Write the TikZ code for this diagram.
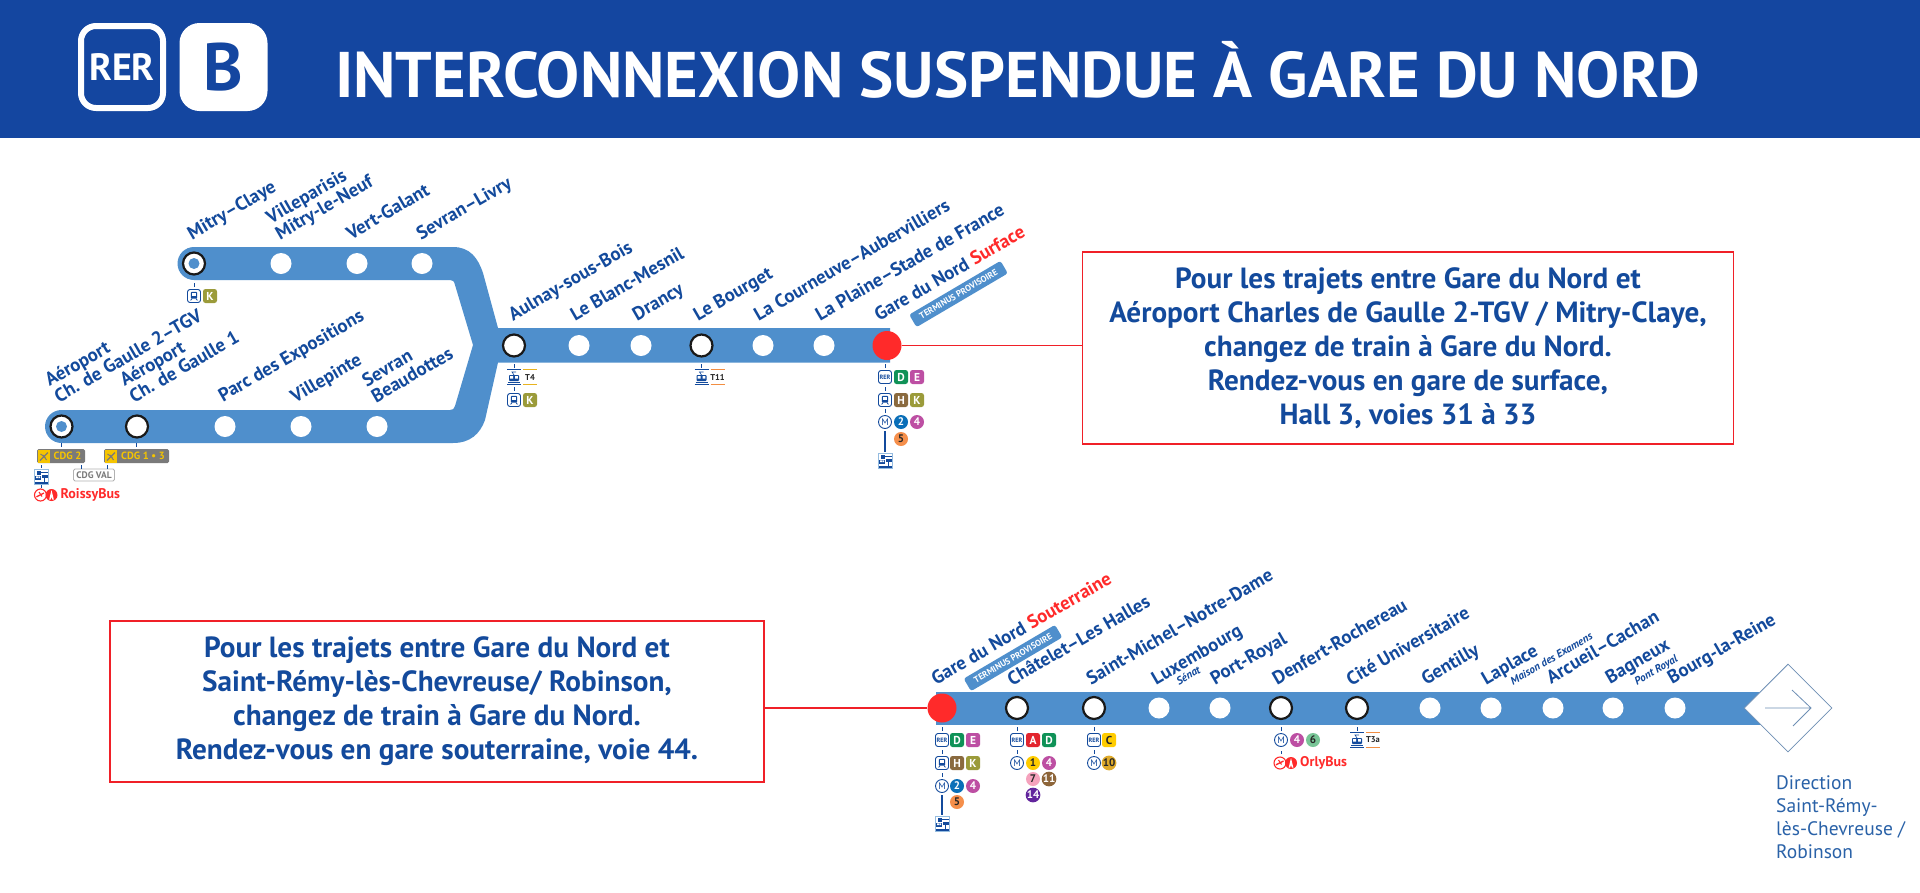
\documentclass[tikz,border=0pt]{standalone}
\usepackage{fontspec}
\usepackage{graphicx}
\setmainfont{PT Sans}
\newfontfamily\titlef{PT Sans}
\usetikzlibrary{calc,shapes.geometric}
\definecolor{hdr}{HTML}{1446A0}
\definecolor{rerb}{HTML}{134A9C}
\definecolor{band}{HTML}{4F8FCC}
\definecolor{redm}{HTML}{FF2A2A}
\definecolor{redl}{HTML}{F02028}
\definecolor{cD}{HTML}{0F9257}
\definecolor{cE}{HTML}{BD4FA3}
\definecolor{cH}{HTML}{8A6A3F}
\definecolor{cK}{HTML}{9B9B3A}
\definecolor{c2}{HTML}{0A6FB8}
\definecolor{c5}{HTML}{F58F4B}
\definecolor{cA}{HTML}{E3252E}
\definecolor{cC}{HTML}{FFCC00}
\definecolor{c7}{HTML}{F5A2BD}
\definecolor{c11}{HTML}{8D6539}
\definecolor{c14}{HTML}{62259D}
\definecolor{c10}{HTML}{DFAA2A}
\definecolor{c6}{HTML}{78C596}
\definecolor{tyel}{HTML}{E8B31E}
\definecolor{tora}{HTML}{F28E42}
\definecolor{chipg}{HTML}{7A7A7A}
\definecolor{chipy}{HTML}{F5C400}
\definecolor{dirc}{HTML}{2A62A8}
\definecolor{dia}{HTML}{6E8FB5}
\newcommand\twol[2]{\begin{tabular}[b]{@{}l@{}}#1\\#2\end{tabular}}
\newcommand\srf[1]{{\color{redm}#1}}
\tikzset{
  x=1pt,y=-1pt,
  lab/.style={font=\fontsize{18.8}{17}\selectfont\bfseries,text=rerb,rotate=30,anchor=base west,inner sep=0pt,outer sep=0pt},
  sublab/.style={font=\fontsize{11}{10}\selectfont\itshape\bfseries,text=rerb,rotate=30,anchor=base west,inner sep=0pt,outer sep=0pt},
  stw/.style={circle,fill=white,minimum size=21pt,inner sep=0pt},
  stb/.style={circle,fill=white,draw=black!90,line width=2.2pt,minimum size=22pt,inner sep=0pt},
  dotb/.style={circle,fill=band,minimum size=11pt,inner sep=0pt},
  stred/.style={circle,fill=redm,minimum size=29pt,inner sep=0pt},
  msgbox/.style={draw=redl,line width=1.4pt,fill=white,align=center,text=rerb,font=\fontsize{29.2}{34}\selectfont\bfseries},
  redline/.style={draw=redl,line width=1.4pt},
  tag/.style={rotate=30.5,fill=band,rounded corners=2.5pt,text=white,font=\fontsize{8.8}{8}\selectfont\bfseries,minimum width=106pt,minimum height=14.5pt,inner sep=0pt},
  sq/.style={rectangle,fill=#1,rounded corners=2.5pt,minimum size=14pt,inner sep=0pt,text=white,font=\fontsize{11.5}{11}\selectfont\bfseries},
  rd/.style={circle,fill=#1,minimum size=14pt,inner sep=0pt,text=white,font=\fontsize{11}{11}\selectfont\bfseries},
  dk/.style={text=black!85},
  icbox/.style={rectangle,draw=rerb,fill=white,line width=0.9pt,rounded corners=2.5pt,minimum size=13pt,inner sep=0pt,text=rerb,font=\fontsize{6.2}{6}\selectfont\bfseries},
  micon/.style={circle,draw=rerb,fill=white,line width=0.9pt,minimum size=13pt,inner sep=0pt,text=rerb,font=\fontsize{9.5}{9}\selectfont},
  tline/.style={rectangle,minimum width=14pt,minimum height=9pt,inner sep=0pt,font=\fontsize{8.5}{8}\selectfont\bfseries,text=black!85},
  tick/.style={draw=rerb,line width=1pt},
  chip/.style={rectangle,fill=chipg,rounded corners=1.5pt,minimum height=14pt,inner sep=0pt,text=chipy,font=\fontsize{10.5}{10}\selectfont\bfseries},
  valchip/.style={rectangle,draw=black!30,fill=white,line width=0.8pt,rounded corners=1.5pt,minimum width=41pt,minimum height=12pt,inner sep=0pt,text=chipg,font=\fontsize{9.5}{9}\selectfont\bfseries},
  busname/.style={inner sep=0pt,anchor=west,text=redm,font=\fontsize{14}{13}\selectfont\bfseries},
  trainic/.pic={
    \fill[rerb,rounded corners=1pt] (-3.2,-4.2) rectangle (3.2,2.6);
    \fill[white] (-2,-2.6) rectangle (2,-0.2);
    \draw[rerb,line width=.8pt] (-2,2.6)--(-3.4,4.4) (2,2.6)--(3.4,4.4);
  },
  tramic/.pic={
    \draw[rerb,line width=1pt] (-7,-7.5)--(7,-7.5) (-7,7.5)--(7,7.5);
    \fill[rerb,rounded corners=.8pt] (-5,-2) rectangle (5,4);
    \fill[white] (-3.8,-.8) rectangle (-1,1.6) (1,-.8) rectangle (3.8,1.6);
    \draw[rerb,line width=.6pt] (0,-2)--(-2,-5)--(2,-5);
    \draw[rerb,line width=.8pt] (-6,5.6)--(6,5.6);
  },
  busic/.pic={
    \fill[white] (-7,-7.5) rectangle (7,7.5);
    \draw[band!60,line width=.6pt] (-7,-7.5) rectangle (7,7.5);
    \fill[rerb] (-6.5,-1.5) rectangle (0,3);
    \fill[rerb] (1,-2.5) rectangle (6.5,.5);
    \fill[rerb] (-6.5,4.5) rectangle (6.5,7);
    \fill[rerb] (-4,-6.5) rectangle (-.5,-2.5);
    \fill[white] (-5,-.6) rectangle (-3,1.2) (-2.5,-.6) rectangle (-.8,1.2);
    \draw[rerb,line width=.8pt] (-1,-5)--(6.5,-5) (3.5,.5)--(3.5,4.5);
  },
  planeic/.pic={
    \draw[chipg,line width=1.1pt] (-4,4)--(4,-4);
    \draw[chipg,line width=1pt] (-3.5,-2.5)--(1.5,1) (2.5,3.5)--(-1,-1.5);
  },
  buslogo/.pic={
    \draw[redm,line width=1.1pt,fill=white] (-5.5,0) circle (6);
    \fill[redm] (5.5,0) circle (6);
    \draw[redm,line width=1.3pt] (-9.5,1.8)--(-2,-2);
    \draw[redm,line width=1pt] (-7,-3)--(-4,1.5);
    \fill[white] (5.5,-5)--(7.8,4.5)--(6.4,4.5)--(5.5,2)--(4.6,4.5)--(3.2,4.5)--cycle;
  }
}
\newcommand\tickup[1]{\draw[tick] ($(#1.north)+(0,-2)$) -- ($(#1.north)+(0,-6)$);}
\begin{document}
\begin{tikzpicture}
\useasboundingbox (0,0) rectangle (1920,892);
\fill[white] (0,0) rectangle (1920,892);
% header
\fill[hdr] (0,0) rectangle (1920,138);
\node[draw=white,line width=6pt,rounded corners=15pt,minimum size=82pt,inner sep=0pt,text=white,font=\titlef\fontsize{38}{38}\selectfont\bfseries] (rerlogo) at (122,67) {RER};
\node[fill=white,rounded corners=20pt,minimum size=88pt,inner sep=0pt,text=hdr,font=\titlef\fontsize{67}{67}\selectfont\bfseries] (blogo) at (223.5,67) {B};
\node[anchor=base west,inner sep=0pt,text=white,font=\titlef\fontsize{64.5}{66}\selectfont\bfseries] (title) at (335,97) {INTERCONNEXION SUSPENDUE À GARE DU NORD};
% band north
\fill[band] (194,263.5) circle (16.5);
\fill[band] (61.5,426.5) circle (16.5);
\fill[band] (194,247) -- (453,247) .. controls (470,247) and (478,258) .. (483,273) -- (498,328) -- (890,328) -- (890,362.5) -- (498,362.5) -- (485,420) .. controls (480,434) and (470,443) .. (453,443) -- (61.5,443) -- (61.5,410) -- (450,410) .. controls (453,410) and (454,409) .. (455,406) -- (473,345) -- (455,285) .. controls (454,281) and (453,280) .. (450,280) -- (194,280) -- cycle;
% band south
\fill[band] (936,692) rectangle (1770,725);
% stations north
\node[stb] (mitry) at (194,263.5) {}; \node[dotb] (mitryd) at (mitry) {};
\node[stw] (vmn) at (281,263.5) {};
\node[stw] (vg) at (357,263.5) {};
\node[stw] (sl) at (422,263.5) {};
\node[stb] (cdgt) at (61.5,426.5) {}; \node[dotb] (cdgtd) at (cdgt) {};
\node[stb] (cdgu) at (137,426.5) {};
\node[stw] (parc) at (225,426.5) {};
\node[stw] (vil) at (301,426.5) {};
\node[stw] (sb) at (377,426.5) {};
\node[stb] (aul) at (514,345.5) {};
\node[stw] (lbm) at (579,345.5) {};
\node[stw] (dra) at (641,345.5) {};
\node[stb] (lbo) at (701.5,345.5) {};
\node[stw] (lco) at (763,345.5) {};
\node[stw] (lpl) at (824,345.5) {};
\node[stred] (gnn) at (887,345.5) {};
% stations south
\node[stred] (gns) at (942,708) {};
\node[stb] (cha) at (1017,708) {};
\node[stb] (smi) at (1094,708) {};
\node[stw] (lux) at (1159,708) {};
\node[stw] (por) at (1220,708) {};
\node[stb] (den) at (1281,708) {};
\node[stb] (cit) at (1357,708) {};
\node[stw] (gen) at (1430,708) {};
\node[stw] (lap) at (1491,708) {};
\node[stw] (arc) at (1553,708) {};
\node[stw] (bag) at (1613,708) {};
\node[stw] (bou) at (1675,708) {};
% terminus diamond
\node[diamond,aspect=1,draw=dia,line width=.8pt,fill=white,minimum size=88pt,inner sep=0pt] (dirn) at (1788,708) {};
\draw[draw=dia,line width=.8pt] (1765,708) -- (1811,708) (1792,690) -- (1811,708) -- (1793,726);
\node[anchor=north west,align=left,inner sep=0pt,text=dirc,font=\fontsize{19.5}{23}\selectfont] (dirt) at (1776,775) {Direction\\Saint-Rémy-\\lès-Chevreuse /\\Robinson};
% labels north
\node[lab] (l1) at (192,240) {Mitry–Claye};
\node[lab] (l2) at (280,240) {\twol{Villeparisis}{Mitry-le-Neuf}};
\node[lab] (l3) at (351,240) {Vert-Galant};
\node[lab] (l4) at (421,240) {Sevran–Livry};
\node[lab] (l5) at (59,403) {\twol{Aéroport}{Ch. de Gaulle 2–TGV}};
\node[lab] (l6) at (134,403) {\twol{Aéroport}{Ch. de Gaulle 1}};
\node[lab] (l7) at (223,402) {Parc des Expositions};
\node[lab] (l8) at (295,403) {Villepinte};
\node[lab] (l9) at (376,403) {\twol{Sevran}{Beaudottes}};
\node[lab] (l10) at (513,321) {Aulnay-sous-Bois};
\node[lab] (l11) at (575,321) {Le Blanc-Mesnil};
\node[lab] (l12) at (637,321) {Drancy};
\node[lab] (l13) at (698,321) {Le Bourget};
\node[lab] (l14) at (758.5,321) {La Courneuve–Aubervilliers};
\node[lab] (l15) at (820,321) {La Plaine–Stade de France};
\node[lab] (l16) at (879,321) {Gare du Nord \srf{Surface}};
\node[tag] (tag1) at (958.5,294) {TERMINUS PROVISOIRE};
% labels south
\node[lab] (m1) at (936,685) {Gare du Nord \srf{Souterraine}};
\node[tag] (tag2) at (1013,658) {TERMINUS PROVISOIRE};
\node[lab] (m2) at (1012,686) {Châtelet–Les Halles};
\node[lab] (m3) at (1091,685) {Saint-Michel–Notre-Dame};
\node[lab] (m4) at (1156,685) {Luxembourg};
\node[sublab] (m4s) at (1179,685) {Sénat};
\node[lab] (m5) at (1215,685) {Port-Royal};
\node[lab] (m6) at (1277,685) {Denfert-Rochereau};
\node[lab] (m7) at (1351,686) {Cité Universitaire};
\node[lab] (m8) at (1426,685) {Gentilly};
\node[lab] (m9) at (1486,685) {Laplace};
\node[sublab] (m9s) at (1513,685) {Maison des Examens};
\node[lab] (m10) at (1551,684) {Arcueil–Cachan};
\node[lab] (m11) at (1610,684) {Bagneux};
\node[sublab] (m11s) at (1637,685) {Pont Royal};
\node[lab] (m12) at (1672,684) {Bourg-la-Reine};
% boxes
\node[msgbox,minimum width=651pt,minimum height=192pt,inner sep=0pt] (box1) at (1408,348) {Pour les trajets entre Gare du Nord et\\Aéroport Charles de Gaulle 2-TGV / Mitry-Claye,\\changez de train à Gare du Nord.\\Rendez-vous en gare de surface,\\Hall 3, voies 31 à 33};
\node[msgbox,minimum width=654pt,minimum height=161pt,inner sep=0pt] (box2) at (437,701.5) {Pour les trajets entre Gare du Nord et\\Saint-Rémy-lès-Chevreuse/ Robinson,\\changez de train à Gare du Nord.\\Rendez-vous en gare souterraine, voie 44.};
\draw[redline] (gnn.east) -- (gnn.east -| box1.west);
\draw[redline] (gns.west) -- (gns.west -| box2.east);
% Mitry
\node[icbox] (a1) at (194,296) {}; \pic at (a1) {trainic}; \node[sq=cK] (a2) at (210,296) {K}; \tickup{a1}
% CDG
\node[chip,minimum width=48pt] (cd2) at (61,456) {\hspace{13pt}CDG 2};
\fill[chipy] (38,450) rectangle (50,463); \pic at (44,456.5) {planeic};
\node[chip,minimum width=65pt] (cd1) at (136.5,456) {\hspace{13pt}CDG 1 • 3};
\fill[chipy] (105,450) rectangle (117,463); \pic at (111,456.5) {planeic};
\tickup{cd2} \tickup{cd1}
\node[valchip] (val) at (94,475) {CDG VAL};
\draw[tick] (81,465) -- (81,468.5) (107,465) -- (107,468.5);
\draw[tick] (41,465) -- (41,468);
\pic at (41,477) {busic};
\draw[tick] (41,485) -- (41,488);
\pic at (46,495) {buslogo};
\node[busname] (rb) at (60.5,495) {RoissyBus};
% Aulnay
\coordinate (b0) at (514,377); \pic at (b0) {tramic};
\node[tline] (b1) at (530,377) {T4}; \draw[tyel,line width=1.2pt] (523,369.5)--(537,369.5) (523,384.5)--(537,384.5);
\draw[tick] (514,364)--(514,368) (514,387)--(514,391);
\node[icbox] (b2) at (514,400) {}; \pic at (b2) {trainic}; \node[sq=cK] (b3) at (530,400) {K};
% Le Bourget
\coordinate (c0) at (701.5,377); \pic at (c0) {tramic};
\node[tline] (c1) at (717.5,377) {T11}; \draw[tora,line width=1.2pt] (710.5,369.5)--(724.5,369.5) (710.5,384.5)--(724.5,384.5);
\draw[tick] (701.5,364)--(701.5,368);
% Gare du Nord surface
\node[icbox] (d1) at (885,377) {RER}; \node[sq=cD] (d2) at (901,377) {D}; \node[sq=cE] (d3) at (917,377) {E};
\node[icbox] (d4) at (885,400) {}; \pic at (d4) {trainic}; \node[sq=cH] (d5) at (901,400) {H}; \node[sq=cK] (d6) at (917,400) {K};
\node[micon] (d7) at (885,422) {M}; \node[rd=c2] (d8) at (901,422) {2}; \node[rd=cE] (d9) at (917,422) {4};
\node[rd=c5,dk] (d10) at (901,439) {5};
\coordinate (d11) at (885,461); \pic at (d11) {busic};
\tickup{d1} \tickup{d4} \tickup{d7}
\draw[tick,line width=1.2pt] (885,431) -- (885,452);
% Gare du Nord souterraine
\node[icbox] (e1) at (942,740) {RER}; \node[sq=cD] (e2) at (957,740) {D}; \node[sq=cE] (e3) at (973,740) {E};
\node[icbox] (e4) at (942,763) {}; \pic at (e4) {trainic}; \node[sq=cH] (e5) at (957,763) {H}; \node[sq=cK] (e6) at (973,763) {K};
\node[micon] (e7) at (942,786) {M}; \node[rd=c2] (e8) at (957,786) {2}; \node[rd=cE] (e9) at (973,786) {4};
\node[rd=c5,dk] (e10) at (957,802) {5};
\coordinate (e11) at (942,824); \pic at (e11) {busic};
\tickup{e1} \tickup{e4} \tickup{e7}
\draw[tick,line width=1.2pt] (942,795) -- (942,815);
% Chatelet
\node[icbox] (f1) at (1017,740) {RER}; \node[sq=cA] (f2) at (1033,740) {A}; \node[sq=cD] (f3) at (1049,740) {D};
\node[micon] (f4) at (1017,763) {M}; \node[rd=cC,dk] (f5) at (1033,763) {1}; \node[rd=cE] (f6) at (1049,763) {4};
\node[rd=c7,dk] (f7) at (1033,779) {7}; \node[rd=c11] (f8) at (1049,779) {11};
\node[rd=c14] (f9) at (1033,795) {14};
\tickup{f1} \tickup{f4}
% St Michel
\node[icbox] (g1) at (1094,740) {RER}; \node[sq=cC,dk] (g2) at (1109,740) {C};
\node[micon] (g3) at (1094,763) {M}; \node[rd=c10,dk] (g4) at (1109,763) {10};
\tickup{g1} \tickup{g3}
% Denfert
\node[micon] (h1) at (1281,740) {M}; \node[rd=cE] (h2) at (1297,740) {4}; \node[rd=c6,dk] (h3) at (1313,740) {6};
\tickup{h1}
\draw[tick] (1281,751)--(1281,754);
\pic at (1285.5,763) {buslogo};
\node[busname] (ob) at (1300,763) {OrlyBus};
% Cite U
\coordinate (i0) at (1357,740); \pic at (i0) {tramic};
\node[tline] (i1) at (1373,740) {T3a}; \draw[tora,line width=1.2pt] (1366,732.5)--(1380,732.5) (1366,747.5)--(1380,747.5);
\draw[tick] (1357,727)--(1357,731);
\end{tikzpicture}
\end{document}
